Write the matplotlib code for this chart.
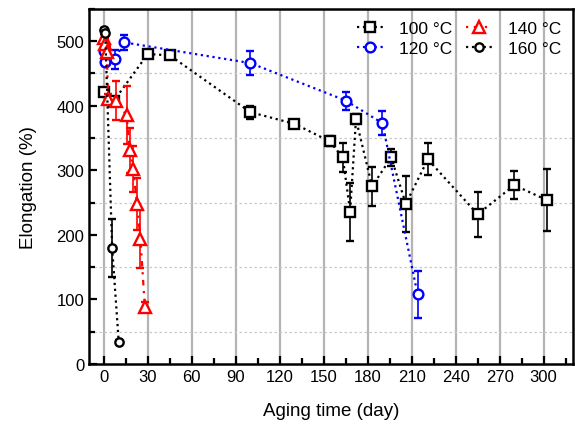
import numpy as np
import matplotlib
matplotlib.use('Agg')
import matplotlib.pyplot as plt
from matplotlib.ticker import MultipleLocator

plt.rcParams['font.family'] = ['Liberation Sans', 'DejaVu Sans']

# 100 C
d100 = [0, 7, 30, 45, 100, 130, 154, 163, 168, 172, 183, 196, 206, 221, 255, 280, 302]
v100 = [422, 408, 480, 478, 390, 372, 345, 320, 236, 379, 275, 320, 248, 317, 232, 277, 254]
e100 = [5, 5, 6, 6, 10, 5, 8, 23, 45, 8, 30, 13, 43, 25, 35, 22, 48]

# 120 C
d120 = [0, 1, 7.5, 14, 100, 165, 190, 214]
v120 = [485, 468, 472, 498, 466, 408, 373, 108]
e120 = [6, 6, 15, 12, 18, 14, 19, 36]

# 140 C
d140 = [0, 1, 2, 3, 8.5, 15.5, 17.8, 20, 22.7, 25, 28]
v140 = [505, 495, 483, 410, 408, 385, 331, 302, 248, 194, 88]
e140 = [6, 8, 10, 8, 30, 45, 35, 35, 40, 45, 8]

# 160 C
d160 = [0, 1, 5.7, 10.2]
v160 = [517, 512, 180, 34]
e160 = [4, 4, 45, 3]

fig = plt.figure(figsize=(5.75, 4.27), dpi=100)
ax = fig.add_axes([0.155, 0.145, 0.8415, 0.832])

style = dict(linewidth=1.6, markerfacecolor='white',
             markeredgewidth=1.7, capsize=3, elinewidth=1.2, capthick=1.2)
ax.errorbar(d100, v100, yerr=e100, color='black', marker='s', markersize=7,
            linestyle=':', label='100 °C', zorder=3, **style)
ax.errorbar(d120, v120, yerr=e120, color='#0000ff', marker='o', markersize=7,
            linestyle=':', label='120 °C', zorder=3, **style)
ax.errorbar(d140, v140, yerr=e140, color='#ff0000', marker='^', markersize=8,
            linestyle=(0, (1, 2.5, 2.5, 2.5)), label='140 °C', zorder=4, **style)
ax.errorbar(d160, v160, yerr=e160, color='black', marker='o', markersize=6,
            linestyle=':', label='160 °C', zorder=5, **style)

ax.set_xlim(-10, 320)
ax.set_ylim(0, 550)
ax.xaxis.set_major_locator(MultipleLocator(30))
ax.xaxis.set_minor_locator(MultipleLocator(15))
ax.yaxis.set_major_locator(MultipleLocator(100))
ax.yaxis.set_minor_locator(MultipleLocator(50))
ax.set_xticks(np.arange(0, 301, 30))

ax.grid(True, which='major', axis='x', color='#b4b4b4', linewidth=1.6, zorder=0)
ax.grid(True, which='minor', axis='y', color='#c8c8c8', linestyle=(0, (2, 2)),
        linewidth=0.9, zorder=0)
ax.set_axisbelow(True)

ax.tick_params(which='both', direction='in', top=False, right=False,
               labelsize=12, width=1.6)
ax.tick_params(which='major', length=6)
ax.tick_params(which='minor', length=4)
for s in ax.spines.values():
    s.set_linewidth(1.8)

ax.set_xlabel('Aging time (day)', fontsize=13.5, labelpad=13)
ax.set_ylabel('Elongation (%)', fontsize=13.5, labelpad=14)

h, l = ax.get_legend_handles_labels()
h = [x[0] for x in h]
ax.legend(h, l, ncol=2, loc='upper right', frameon=False, fontsize=12.5,
          handlelength=1.5, columnspacing=0.8, handletextpad=0.9,
          borderaxespad=0.3, labelspacing=0.25)

fig.savefig('out.png', dpi=100)
